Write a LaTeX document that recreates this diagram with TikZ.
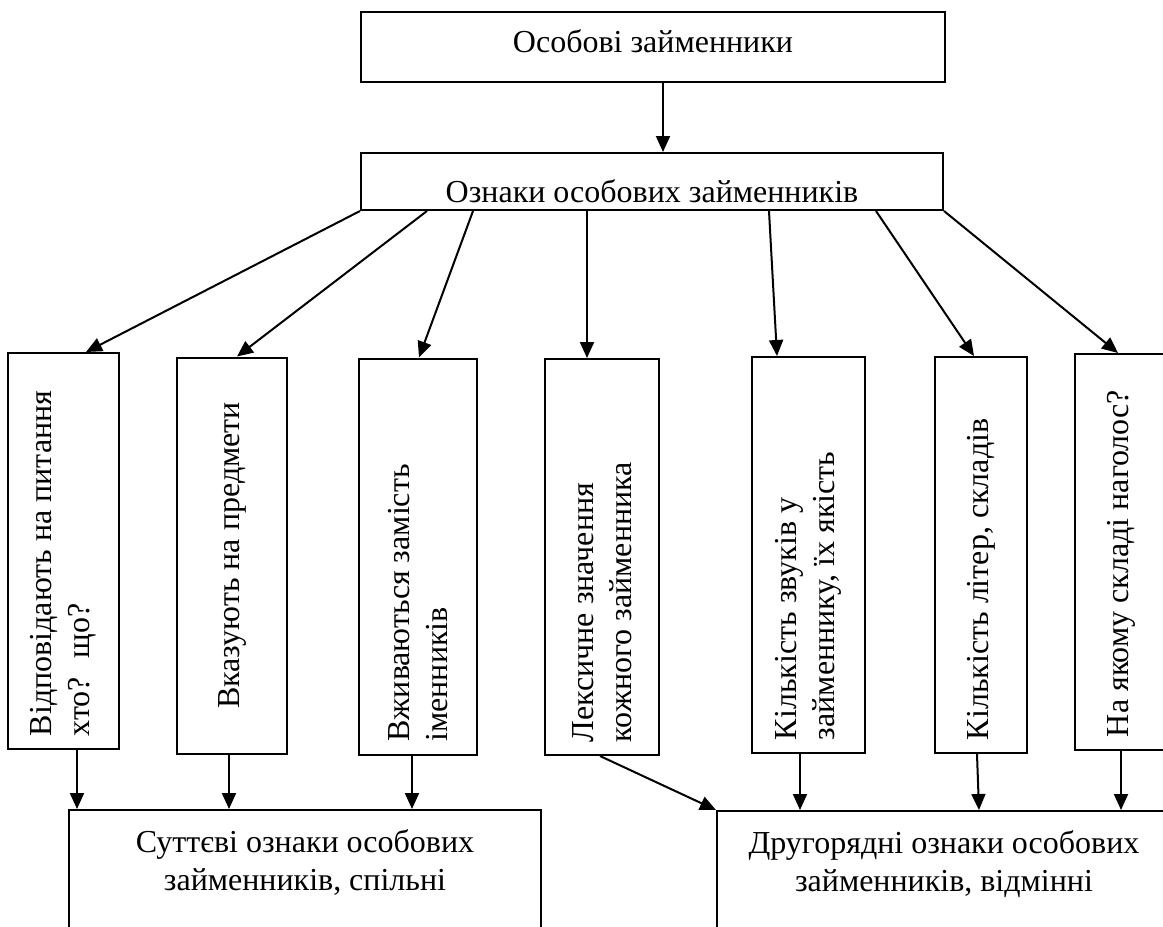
\documentclass[tikz,border=0pt]{standalone}
\usepackage{fontspec}
\setmainfont{Liberation Serif}
\usepackage{graphicx}
\usepackage{tikz}
\usetikzlibrary{arrows.meta,positioning}
\newcommand{\vlabel}[2][\raggedright]{\rotatebox{90}{\parbox{370pt}{#1#2}}}

\begin{document}
\begin{tikzpicture}[x=1pt,y=-1pt,>={Triangle[length=16pt,width=14pt]},line width=2pt]
  \tikzstyle{catbox}=[draw,rectangle,inner sep=0pt,align=center,
    font=\fontsize{32}{38}\selectfont]
  \tikzstyle{featbox}=[draw,rectangle,inner sep=0pt,minimum height=396pt,
    font=\fontsize{32}{38}\selectfont]
  \tikzstyle{groupbox}=[draw,rectangle,inner sep=0pt,minimum height=180pt]
  \tikzstyle{captext}=[inner sep=0pt,align=center,
    font=\fontsize{32}{38}\selectfont]
  \useasboundingbox (0,0) rectangle (1163,927);
  \clip (0,0) rectangle (1163,927);
  \node[catbox,minimum width=584pt,minimum height=70pt,text height=12pt] (pron) at (653,47) {Особові займенники};
  \node[catbox,minimum width=582pt,minimum height=57pt,text height=43pt] (sign) at (652,181.5) {Ознаки особових займенників};
  \node[featbox,minimum width=111pt] (ques) at (63.5,551) {\vlabel{Відповідають на питання\\хто?~ що?}};
  \node[featbox,minimum width=110pt] (point) at (232,555.5) {\vlabel[\centering]{Вказують на предмети}};
  \node[featbox,minimum width=118pt] (subst) at (418,556.5) {\vlabel{Вживаються замість\\іменників}};
  \node[featbox,minimum width=114pt] (lexic) at (602,557) {\vlabel{Лексичне значення\\кожного займенника}};
  \node[featbox,minimum width=113pt] (sound) at (808.5,555) {\vlabel{Кількість звуків у\\займеннику, їх якість}};
  \node[featbox,minimum width=92pt] (letter) at (981,555) {\vlabel{Кількість літер, складів}};
  \node[featbox,minimum width=92pt] (stress) at (1121,552) {\vlabel{На якому складі наголос?}};
  \node[groupbox,minimum width=472pt] (essen) at (305,900) {};
  \node[captext,below=20pt of essen.north] (essentext) {Суттєві ознаки особових\\займенників, спільні};
  \node[groupbox,minimum width=454pt] (minor) at (944,901) {};
  \node[captext,below=20pt of minor.north] (minortext) {Другорядні ознаки особових\\займенників, відмінні};
  \draw[->] ([xshift=10pt]pron.south) -- ([xshift=11pt]sign.north);
  \draw[->] (sign.south west) -- ([xshift=22.5pt]ques.north);
  \draw[->] ([xshift=-225pt]sign.south) -- ([xshift=5pt]point.north);
  \draw[->] ([xshift=-179pt]sign.south) -- ([xshift=1pt]subst.north);
  \draw[->] ([xshift=-65pt]sign.south) -- ([xshift=-15pt]lexic.north);
  \draw[->] ([xshift=117pt]sign.south) -- ([xshift=-31.5pt]sound.north);
  \draw[->] ([xshift=224pt]sign.south) -- ([xshift=-7pt]letter.north);
  \draw[->] (sign.south east) -- ([xshift=-3pt]stress.north);
  \draw[->] ([xshift=13.5pt]ques.south) -- ([xshift=-228pt]essen.north);
  \draw[->] ([xshift=-3pt]point.south) -- ([xshift=-76pt]essen.north);
  \draw[->] ([xshift=-6pt]subst.south) -- ([xshift=107pt]essen.north);
  \draw[->] ([xshift=-2pt]lexic.south) -- (minor.north west);
  \draw[->] ([xshift=-8.5pt]sound.south) -- ([xshift=-144pt]minor.north);
  \draw[->] ([xshift=-4pt]letter.south) -- ([xshift=35pt]minor.north);
  \draw[->] (stress.south) -- ([xshift=177pt]minor.north);
\end{tikzpicture}
\end{document}
